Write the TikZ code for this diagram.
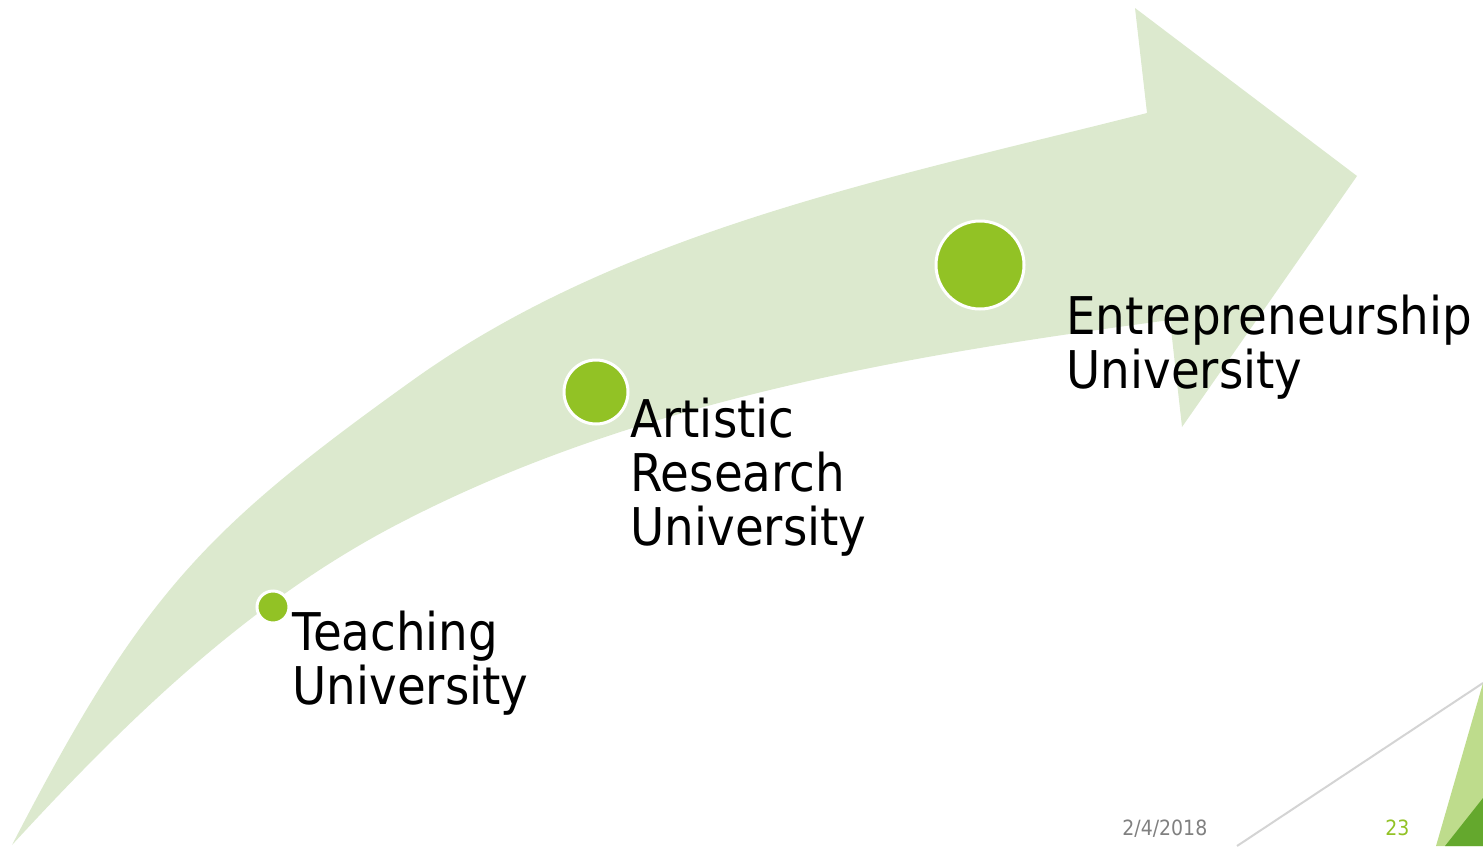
\documentclass[tikz,border=0pt]{standalone}
\usepackage{fontspec}
\setmainfont{DejaVu Sans}[FakeStretch=0.9]
\definecolor{arrowfill}{RGB}{220,233,206}
\definecolor{dotgreen}{RGB}{146,194,37}
\definecolor{lightgreen}{RGB}{190,220,140}
\definecolor{darkgreen}{RGB}{100,168,45}
\definecolor{linegray}{RGB}{212,212,212}
\definecolor{dategray}{RGB}{128,128,128}
\begin{document}
\begin{tikzpicture}[x=0.5pt,y=-0.5pt,
  dot/.style={circle, fill=dotgreen, draw=white, line width=1.5pt, inner sep=0pt, minimum size=#1},
  captext/.style={align=left, anchor=base west, inner sep=0pt, font=\fontsize{26}{27}\selectfont},
  foot/.style={anchor=base west, inner sep=0pt, font=\fontsize{10.5}{12}\selectfont}]
\useasboundingbox (0,0) rectangle (1483,846);
% big curved arrow
\fill[arrowfill] (12,845) .. controls (141,596) and (202,531) .. (413,380)
  .. controls (624,229) and (895,177) .. (1147,113)
  -- (1135,8) -- (1357,176) -- (1182,427) -- (1170,320)
  .. controls (907,355) and (635,401) .. (400,523)
  .. controls (249,601) and (127,720) .. (12,845) -- cycle;
% milestones
\node[dot=16pt] (c1) at (273,607) {};
\node[dot=32pt] (c2) at (596,392) {};
\node[dot=44pt] (c3) at (980,265) {};
\node[captext] (t1) at (292,704) {Teaching\\University};
\node[captext] (t2) at (630,545) {Artistic\\Research\\University};
\node[captext] (t3) at (1066,388) {Entrepreneurship\\University};
% footer decoration
\draw[linegray, line width=1pt] (1237,846) -- (1483,683);
\fill[lightgreen] (1436,846) -- (1483,683) -- (1483,846) -- cycle;
\fill[darkgreen] (1445,846) -- (1483,798) -- (1483,846) -- cycle;
\node[foot, text=dategray] (date) at (1122,835) {2/4/2018};
\node[foot, text=dotgreen] (page) at (1385,835) {23};
\end{tikzpicture}
\end{document}
